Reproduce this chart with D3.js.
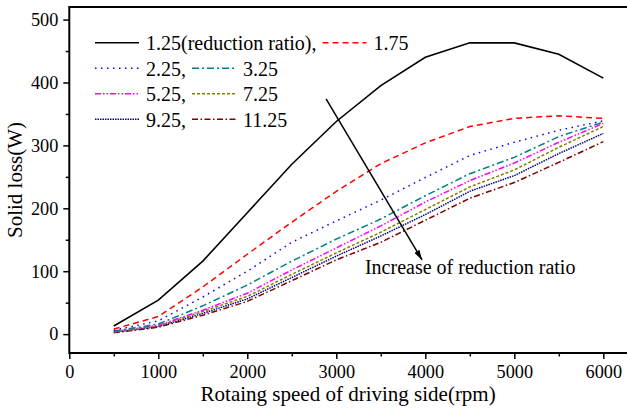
<!DOCTYPE html>
<html>
<head>
<meta charset="utf-8">
<script src="https://cdn.jsdelivr.net/npm/d3@7/dist/d3.min.js"></script>
<style>
  body { margin: 0; background: #fff; }
  svg, svg text { font-family: "Liberation Serif", "Times New Roman", Times, "DejaVu Serif", serif; }
</style>
</head>
<body>
<div id="chart"></div>
<script>
// =======================
// DATA
// Solid loss vs rotating speed, one curve per reduction ratio
// =======================
const speeds = [500, 1000, 1500, 2000, 2500, 3000, 3500, 4000, 4500, 5000, 5500, 6000];

const loss125  = [13, 54, 116, 193, 270, 338, 395, 440, 463, 463, 445, 407];
const loss175  = [8, 28, 75, 127, 178, 227, 271, 304, 330, 343, 347, 343];
const loss225  = [6, 21, 59, 100, 146, 180, 213, 249, 284, 305, 324, 339];
const loss325  = [5, 16, 45, 78, 116, 151, 183, 220, 255, 281, 314, 337];
const loss525  = [4, 14, 38, 65, 102, 137, 172, 210, 244, 272, 305, 335];
const loss725  = [3, 13, 36, 60, 95, 129, 162, 198, 234, 261, 297, 330];
const loss925  = [3, 12, 33, 56, 90, 124, 156, 190, 227, 252, 287, 319];
const loss1125 = [2, 11, 30, 52, 85, 118, 146, 181, 216, 241, 273, 306];

const legendLabels = ["1.25(reduction ratio),", "1.75", "2.25,", "3.25", "5.25,", "7.25", "9.25,", "11.25"];
const allLosses = [loss125, loss175, loss225, loss325, loss525, loss725, loss925, loss1125];

const xTicks = [0, 1000, 2000, 3000, 4000, 5000, 6000];
const xMinor = [500, 1500, 2500, 3500, 4500, 5500];
const yTicks = [0, 100, 200, 300, 400, 500];
const yMinor = [50, 150, 250, 350, 450];

// annotation: arrow start/end and text anchor (data units)
const arrowFrom = [2885, 374];
const arrowTo = [3963, 118];
const noteAt = [3322, 96];
const noteText = "Increase of reduction ratio";

// Line styles
const lineColors = ["#000000", "#ff0000", "#0000ff", "#008080", "#ff00ff", "#808000", "#000080", "#800000"];
const lineDashes = [null, "6,4", "1.5,4.5", "7,3,2,3", "6,2,1.5,2,1.5,2", "3,2", "1.5,1", "6,2.5,1.5,2.5"];
const lineWidths = [1.6, 1.5, 1.5, 1.5, 1.5, 1.5, 1.5, 1.5];

const series = allLosses.map((vals, i) => ({
  label: legendLabels[i],
  points: speeds.map((s, j) => ({ x: s, y: vals[j] })),
  color: lineColors[i],
  dash: lineDashes[i],
  width: lineWidths[i]
}));

// =======================
// CHART
// =======================
const width = 627, height = 408;
const margin = { top: 7, left: 69.3, bottom: 55 };
const serif = "'Liberation Serif', 'Times New Roman', Times, 'DejaVu Serif', serif";

const svg = d3.select("#chart")
  .append("svg")
    .attr("width", width)
    .attr("height", height)
    .attr("font-family", serif);

svg.append("rect")
  .attr("width", width)
  .attr("height", height)
  .attr("fill", "#fff");

// X scale (right frame falls just outside the picture)
const x = d3.scaleLinear()
  .domain([0, 6300])
  .range([margin.left, margin.left + 6300 * 0.089]);

// Y scale
const y = d3.scaleLinear()
  .domain([-30, 520])
  .range([height - margin.bottom, margin.top]);

const x0 = x.range()[0], x1 = x.range()[1];
const y0 = y.range()[0], y1 = y.range()[1];

// Major + minor ticks, outward
svg.append("g")
  .attr("transform", `translate(0,${y0})`)
  .call(d3.axisBottom(x).tickValues(xTicks).tickSize(6).tickPadding(6.5).tickFormat(d3.format("d")));
svg.append("g")
  .attr("transform", `translate(0,${y0})`)
  .call(d3.axisBottom(x).tickValues(xMinor).tickSize(3.5).tickFormat(""));

svg.append("g")
  .attr("transform", `translate(${x0},0)`)
  .call(d3.axisLeft(y).tickValues(yTicks).tickSize(6).tickPadding(5).tickFormat(d3.format("d")));
svg.append("g")
  .attr("transform", `translate(${x0},0)`)
  .call(d3.axisLeft(y).tickValues(yMinor).tickSize(3.5).tickFormat(""));

svg.selectAll(".domain").remove();
svg.selectAll("g").attr("font-family", serif);
svg.selectAll(".tick line").attr("stroke", "#000").attr("stroke-width", 1.5);
svg.selectAll(".tick text")
  .attr("fill", "#000")
  .attr("font-size", 18.3);

// Frame
svg.append("rect")
  .attr("x", x0)
  .attr("y", y1)
  .attr("width", x1 - x0)
  .attr("height", y0 - y1)
  .attr("fill", "none")
  .attr("stroke", "#000")
  .attr("stroke-width", 2);

// Axis titles
svg.append("text")
  .attr("x", (x0 + width) / 2)
  .attr("y", 401)
  .attr("text-anchor", "middle")
  .attr("font-size", 21)
  .text("Rotaing speed of driving side(rpm)");

svg.append("text")
  .attr("transform", "rotate(-90)")
  .attr("x", -(y0 + y1) / 2)
  .attr("y", 22)
  .attr("text-anchor", "middle")
  .attr("font-size", 21)
  .text("Solid loss(W)");

// Lines
const line = d3.line()
  .x(d => x(d.x))
  .y(d => y(d.y));

svg.append("g")
  .selectAll("path")
  .data(series.slice().reverse())
  .enter()
  .append("path")
    .attr("d", d => line(d.points))
    .attr("fill", "none")
    .attr("stroke", d => d.color)
    .attr("stroke-width", d => d.width)
    .attr("stroke-dasharray", d => d.dash);

// Legend: two items per row, second item follows the first one's text
const legend = svg.append("g");
const rowY = [42.7, 68.2, 93.7, 119.2];
let col1Start = 0;
series.forEach((s, i) => {
  const row = Math.floor(i / 2), col = i % 2;
  const lx = col === 0 ? 95 : col1Start;
  const ly = rowY[row];
  legend.append("line")
    .attr("x1", lx).attr("x2", lx + 44)
    .attr("y1", ly).attr("y2", ly)
    .attr("stroke", s.color)
    .attr("stroke-width", s.width)
    .attr("stroke-dasharray", s.dash);
  const t = legend.append("text")
    .attr("x", lx + 51)
    .attr("y", ly + 7.3)
    .attr("font-size", 20)
    .text(s.label);
  if (col === 0) col1Start = lx + 51 + t.node().getComputedTextLength() + 6;
});

// Annotation arrow
svg.append("defs").append("marker")
  .attr("id", "head")
  .attr("viewBox", "0 0 10 6")
  .attr("refX", 10)
  .attr("refY", 3)
  .attr("markerWidth", 10)
  .attr("markerHeight", 6)
  .attr("markerUnits", "userSpaceOnUse")
  .attr("orient", "auto")
  .append("path")
    .attr("d", "M0,0 L10,3 L0,6 Z")
    .attr("fill", "#000");

svg.append("line")
  .attr("x1", x(arrowFrom[0])).attr("y1", y(arrowFrom[1]))
  .attr("x2", x(arrowTo[0])).attr("y2", y(arrowTo[1]))
  .attr("stroke", "#000")
  .attr("stroke-width", 1.5)
  .attr("marker-end", "url(#head)");

svg.append("text")
  .attr("x", x(noteAt[0]))
  .attr("y", y(noteAt[1]))
  .attr("font-size", 20)
  .text(noteText);
</script>
</body>
</html>
